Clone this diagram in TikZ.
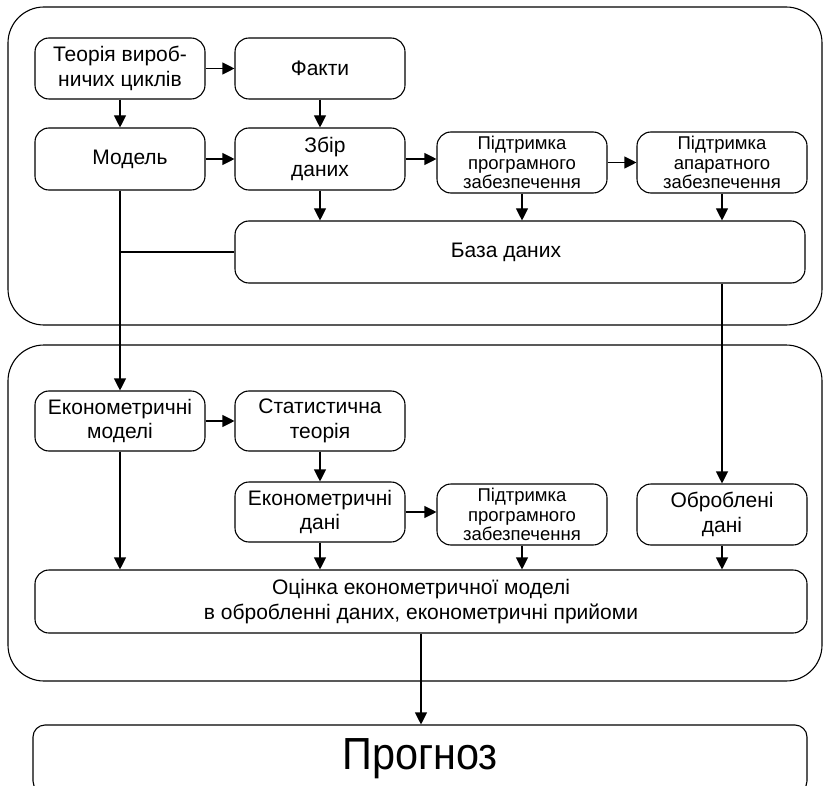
\documentclass[tikz,border=0pt]{standalone}
\usepackage{fontspec}
\setmainfont{Liberation Sans}
\usetikzlibrary{arrows.meta}
\tikzset{
  box/.style={draw, line width=1.1pt, rounded corners=14pt, minimum width=170pt, minimum height=61pt,
    inner sep=0pt, align=center, font=\fontsize{21}{24.5}\selectfont},
  smallbox/.style={box, font=\fontsize{18.5}{19.5}\selectfont},
  frame/.style={draw, line width=1.1pt, rounded corners=36pt},
  arr/.style={line width=1.1pt, -{Triangle[length=12pt,width=12pt]}},
  ln/.style={line width=1.1pt},
}
\begin{document}
\begin{tikzpicture}[x=1pt,y=-1pt]
\useasboundingbox (0,0) rectangle (824,786);
\begin{scope}
\clip (0,0) rectangle (824,786);
% frames
\draw[frame] (8,7) rectangle (822,325);
\draw[frame] (8,345) rectangle (822,681);
% top block
\node[box] (teor) at (120,68.5) {Теорія вироб-\\ничих циклів};
\node[box] (fakty) at (320,68.5) {Факти};
\node[box, minimum height=62pt] (model) at (120,159) {\hspace*{20pt}Модель};
\node[box, minimum height=62pt] (zbir) at (320,159) {\hspace*{10pt}Збір\\даних};
\node[smallbox] (pp1) at (522,162.5) {Підтримка\\програмного\\забезпечення};
\node[smallbox] (pa) at (722,162.5) {Підтримка\\апаратного\\забезпечення};
\node[box, minimum width=570pt, minimum height=62pt] (baza) at (520,252) {База даних\hspace*{28pt}};
% middle block
\node[box, minimum height=60pt] (em) at (120,421) {Економетричні\\моделі};
\node[box, minimum height=60pt] (st) at (320,421) {Статистична\\теорія};
\node[box, minimum height=60pt] (ed) at (320,512) {Економетричні\\дані};
\node[smallbox] (pp2) at (522,514.5) {Підтримка\\програмного\\забезпечення};
\node[box] (od) at (722,514.5) {Оброблені\\дані};
\node[box, minimum width=772pt, minimum height=63pt] (oc) at (421,601.5)
  {Оцінка економетричної моделі\\в обробленні даних, економетричні прийоми};
% bottom
\node[box, rounded corners=12pt, minimum width=774pt, minimum height=68pt,
  font=\fontsize{45}{50}\selectfont] (prog) at (420,759) {\raisebox{-4pt}{\scalebox{0.92}[1]{Прогноз}}};
% connectors top
\draw[arr] (teor.east) -- (fakty.west);
\draw[arr] (teor.south) -- (model.north);
\draw[arr] (fakty.south) -- (zbir.north);
\draw[arr] (model.east) -- (zbir.west);
\draw[arr] (zbir.east) -- (zbir.east -| pp1.west);
\draw[arr] (pp1.east) -- (pa.west);
\draw[arr] (zbir.south) -- (zbir.south |- baza.north);
\draw[arr] (pp1.south) -- (pp1.south |- baza.north);
\draw[arr] (pa.south) -- (pa.south |- baza.north);
\draw[arr] (model.south) -- (em.north);
\draw[ln] (model.south |- baza.west) -- (baza.west);
\draw[arr] (od.north |- baza.south) -- (od.north);
% connectors middle
\draw[arr] (em.east) -- (st.west);
\draw[arr] (st.south) -- (ed.north);
\draw[arr] (ed.east) -- (ed.east -| pp2.west);
\draw[arr] (em.south) -- (em.south |- oc.north);
\draw[arr] (ed.south) -- (ed.south |- oc.north);
\draw[arr] (pp2.south) -- (pp2.south |- oc.north);
\draw[arr] (od.south) -- (od.south |- oc.north);
\draw[arr] (oc.south) -- (oc.south |- prog.north);
\end{scope}
\end{tikzpicture}
\end{document}
